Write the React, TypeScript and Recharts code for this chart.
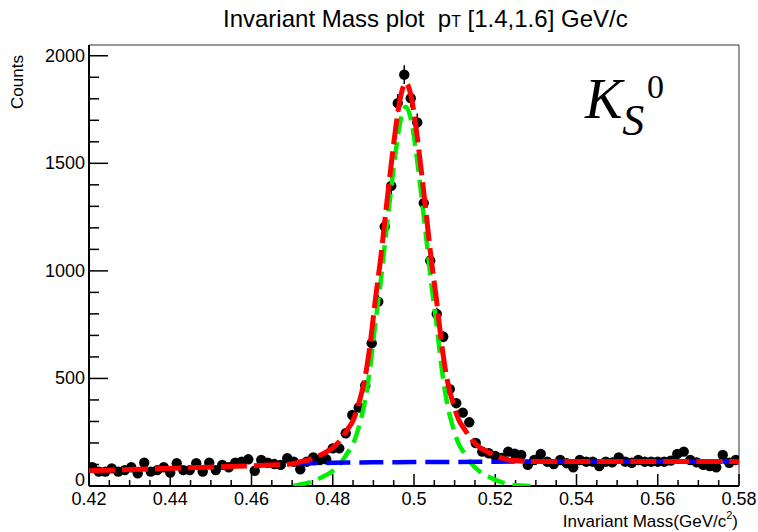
import { ComposedChart, XAxis, YAxis, Line, ErrorBar, ReferenceLine } from "recharts";

// histogram bin centres (100 bins of 0.0016 from 0.42 to 0.58)
const binCenters = [
  0.4208, 0.4224, 0.424, 0.4256, 0.4272, 0.4288, 0.4304, 0.432, 0.4336, 0.4352,
  0.4368, 0.4384, 0.44, 0.4416, 0.4432, 0.4448, 0.4464, 0.448, 0.4496, 0.4512,
  0.4528, 0.4544, 0.456, 0.4576, 0.4592, 0.4608, 0.4624, 0.464, 0.4656, 0.4672,
  0.4688, 0.4704, 0.472, 0.4736, 0.4752, 0.4768, 0.4784, 0.48, 0.4816, 0.4832,
  0.4848, 0.4864, 0.488, 0.4896, 0.4912, 0.4928, 0.4944, 0.496, 0.4976, 0.4992,
  0.5008, 0.5024, 0.504, 0.5056, 0.5072, 0.5088, 0.5104, 0.512, 0.5136, 0.5152,
  0.5168, 0.5184, 0.52, 0.5216, 0.5232, 0.5248, 0.5264, 0.528, 0.5296, 0.5312,
  0.5328, 0.5344, 0.536, 0.5376, 0.5392, 0.5408, 0.5424, 0.544, 0.5456, 0.5472,
  0.5488, 0.5504, 0.552, 0.5536, 0.5552, 0.5568, 0.5584, 0.56, 0.5616, 0.5632,
  0.5648, 0.5664, 0.568, 0.5696, 0.5712, 0.5728, 0.5744, 0.576, 0.5776, 0.5792,
];

const counts = [
  87, 67, 67, 82, 67, 74, 87, 59, 108, 67,
  74, 87, 62, 106, 74, 74, 106, 67, 108, 74,
  98, 87, 108, 113, 124, 71, 121, 108, 102, 98,
  129, 113, 78, 113, 133, 121, 124, 175, 175, 245,
  330, 365, 467, 664, 857, 1206, 1395, 1780, 1912, 1803,
  1690, 1315, 1048, 800, 694, 450, 385, 341, 296, 200,
  160, 152, 140, 130, 160, 150, 144, 98, 121, 149,
  113, 102, 121, 106, 87, 121, 113, 113, 93, 113,
  110, 133, 113, 108, 121, 113, 113, 113, 113, 118,
  149, 160, 121, 110, 98, 93, 87, 144, 108, 121,
];

// total fit (red)
const totalX = [
  0.42, 0.43, 0.44, 0.45, 0.46, 0.466, 0.4703, 0.4715, 0.4745, 0.4775, 0.48, 0.482, 0.4835,
  0.485, 0.4865, 0.488, 0.4892, 0.4905, 0.4918, 0.493, 0.4943, 0.4955, 0.4967, 0.498,
  0.4993, 0.5005, 0.5017, 0.503, 0.5042, 0.5055, 0.5068, 0.508, 0.5095, 0.511, 0.5125,
  0.514, 0.516, 0.5185, 0.5215, 0.5245, 0.5298, 0.54, 0.55, 0.56, 0.57, 0.58,
];
const totalY = [
  71, 77, 82, 88, 94, 99, 103, 110, 124, 149, 178, 216, 259,
  305, 389, 509, 659, 869, 1059, 1265, 1480, 1665, 1810, 1874,
  1811, 1666, 1481, 1266, 1061, 871, 661, 511, 392, 308, 262,
  220, 182, 155, 131, 118, 114, 114, 114, 114, 114, 113,
];

// signal (green)
const signalX = [
  0.4703, 0.4715, 0.4745, 0.4775, 0.48, 0.482, 0.4835, 0.485, 0.4865, 0.488, 0.4892,
  0.4905, 0.4918, 0.493, 0.4943, 0.4955, 0.4967, 0.498, 0.4993, 0.5005, 0.5017, 0.503,
  0.5042, 0.5055, 0.5068, 0.508, 0.5095, 0.511, 0.5125, 0.514, 0.516, 0.5185, 0.5215,
  0.5245, 0.5298,
];
const signalY = [
  0, 5, 18, 42, 70, 108, 150, 196, 280, 400, 550,
  760, 950, 1155, 1370, 1555, 1700, 1763, 1700, 1555, 1370, 1155,
  950, 760, 550, 400, 280, 196, 150, 108, 70, 42, 18,
  5, 0,
];

// background (blue)
const bkgX = [0.4703, 0.475, 0.48, 0.49, 0.5, 0.51, 0.52, 0.53, 0.54, 0.55, 0.56, 0.57, 0.58];
const bkgY = [104, 106, 108, 110, 111, 112, 113, 114, 114, 114, 114, 114, 113];

const xTicks = [
  0.42, 0.425, 0.43, 0.435, 0.44, 0.445, 0.45, 0.455, 0.46, 0.465, 0.47, 0.475, 0.48,
  0.485, 0.49, 0.495, 0.5, 0.505, 0.51, 0.515, 0.52, 0.525, 0.53, 0.535, 0.54, 0.545,
  0.55, 0.555, 0.56, 0.565, 0.57, 0.575, 0.58,
];
const xMajorTicks = [0.42, 0.44, 0.46, 0.48, 0.5, 0.52, 0.54, 0.56, 0.58];
const xTickLabels = ["0.42", "0.44", "0.46", "0.48", "0.5", "0.52", "0.54", "0.56", "0.58"];

const yTicks = [
  0, 100, 200, 300, 400, 500, 600, 700, 800, 900, 1000,
  1100, 1200, 1300, 1400, 1500, 1600, 1700, 1800, 1900, 2000,
];
const yMajorTicks = [0, 500, 1000, 1500, 2000];
const yTickLabels = ["0", "500", "1000", "1500", "2000"];

const points = binCenters.map((x, i) => ({ x, y: counts[i], err: Math.sqrt(counts[i]) }));
const total = totalX.map((x, i) => ({ x, y: totalY[i] }));
const signal = signalX.map((x, i) => ({ x, y: signalY[i] }));
const bkg = bkgX.map((x, i) => ({ x, y: bkgY[i] }));

const SANS = "'Liberation Sans', Arial, Helvetica, sans-serif";
const SERIF = "'Liberation Serif', 'Times New Roman', serif";

const W = 758;
const H = 532;
const MARGIN = { top: 45, right: 19, bottom: 0, left: 0 };
// hidden axes take no room, so the overlay gets the axis room as margin
const OVERLAY_MARGIN = { top: 45, right: 19, bottom: 46, left: 89 };
const X_DOMAIN: [number, number] = [0.42, 0.58];
const Y_DOMAIN: [number, number] = [0, 2050];

const XTick = (props: any) => {
  const { x, y, payload } = props;
  const i = xMajorTicks.findIndex((t) => Math.abs(t - payload.value) < 1e-9);
  const major = i >= 0;
  return (
    <g>
      <line x1={x} x2={x} y1={y} y2={y - (major ? 12 : 6)} stroke="#000" strokeWidth={1.5} />
      {major && (
        <text x={x} y={y + 19} textAnchor="middle" fontSize={18} fontFamily={SANS} fill="#000">
          {xTickLabels[i]}
        </text>
      )}
    </g>
  );
};

const YTick = (props: any) => {
  const { x, y, payload } = props;
  const i = yMajorTicks.findIndex((t) => t === payload.value);
  const major = i >= 0;
  return (
    <g>
      <line x1={x} x2={x + (major ? 19 : 10)} y1={y} y2={y} stroke="#000" strokeWidth={1.5} />
      {major && (
        <text x={x - 4} y={y + (payload.value === 0 ? 0 : 6)} textAnchor="end" fontSize={18} fontFamily={SANS} fill="#000">
          {yTickLabels[i]}
        </text>
      )}
    </g>
  );
};

const Dot = (props: any) => <circle key={props.index} cx={props.cx} cy={props.cy} r={5.2} fill="#000" />;

// the fit curves sit in a second, transparent chart on top so they cover the points like in ROOT
const FitOverlay = () => (
  <ComposedChart width={W} height={H} margin={OVERLAY_MARGIN} style={{ position: "absolute", left: 0, top: 0 }}>
    <XAxis type="number" dataKey="x" domain={X_DOMAIN} hide allowDataOverflow />
    <YAxis type="number" domain={Y_DOMAIN} hide allowDataOverflow />
    <Line data={signal} dataKey="y" type="monotone" stroke="#00ee00" strokeWidth={4.5} strokeDasharray="18 8" dot={false} activeDot={false} isAnimationActive={false} />
    <Line data={bkg} dataKey="y" type="monotone" stroke="#0000ff" strokeWidth={4.5} strokeDasharray="24 9" dot={false} activeDot={false} isAnimationActive={false} />
    <Line data={total} dataKey="y" type="monotone" stroke="#ff0000" strokeWidth={5} strokeDasharray="26 7" dot={false} activeDot={false} isAnimationActive={false} />
  </ComposedChart>
);

export default function App() {
  return (
    <div style={{ position: "absolute", left: 0, top: 0, width: W, height: H, background: "#fff" }}>
      <ComposedChart width={W} height={H} margin={MARGIN}>
        <XAxis
          type="number"
          dataKey="x"
          domain={X_DOMAIN}
          ticks={xTicks}
          interval={0}
          height={46}
          tickSize={0}
          tickMargin={0}
          tickLine={false}
          tick={<XTick />}
          axisLine={{ stroke: "#000", strokeWidth: 2 }}
          allowDataOverflow
        />
        <YAxis
          type="number"
          domain={Y_DOMAIN}
          ticks={yTicks}
          interval={0}
          width={89}
          tickSize={0}
          tickMargin={0}
          tickLine={false}
          tick={<YTick />}
          axisLine={{ stroke: "#000", strokeWidth: 2 }}
          allowDataOverflow
        />
        <ReferenceLine y={2050} stroke="#333" strokeWidth={1} />
        <ReferenceLine x={0.58} stroke="#333" strokeWidth={1} />
        <Line data={points} dataKey="y" stroke="none" dot={<Dot />} activeDot={false} isAnimationActive={false}>
          <ErrorBar dataKey="err" direction="y" width={0} stroke="#000" strokeWidth={1.5} />
        </Line>
      </ComposedChart>
      <FitOverlay />
      <svg width={W} height={H} style={{ position: "absolute", left: 0, top: 0, pointerEvents: "none" }}>
        <text x={223} y={27} fontSize={24} fontFamily={SANS} fill="#000">
          Invariant Mass plot{"\u00a0\u00a0"}p<tspan fontSize={16}>T</tspan> [1.4,1.6] GeV/c
        </text>
        <text x={23} y={82} fontSize={17} fontFamily={SANS} fill="#000" textAnchor="middle" transform="rotate(-90 23 82)">
          Counts
        </text>
        <text x={738} y={527} fontSize={17} fontFamily={SANS} fill="#000" textAnchor="end">
          Invariant Mass(GeV/c<tspan fontSize={11} dy={-8}>2</tspan><tspan dy={8}>)</tspan>
        </text>
        <text fontFamily={SERIF} fill="#000">
          <tspan x={585} y={118} fontSize={56} fontStyle="italic">K</tspan>
          <tspan y={135} fontSize={44} fontStyle="italic">S</tspan>
          <tspan x={647} y={98} fontSize={34}>0</tspan>
        </text>
      </svg>
    </div>
  );
}
